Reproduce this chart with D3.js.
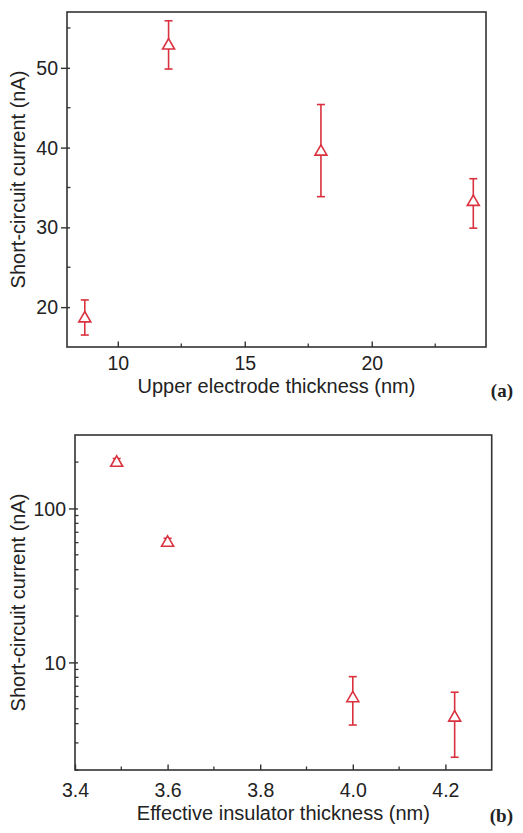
<!DOCTYPE html>
<html><head><meta charset="utf-8">
<script src="https://cdn.jsdelivr.net/npm/d3@7"></script>
<style>body{margin:0;background:#fff}svg{display:block}text{font-family:"Liberation Sans",Arial,sans-serif;fill:#222}</style>
</head><body>
<svg id="c" width="523" height="833"></svg>
<script>
// Panel (a)
const aThickness = [8.7, 12, 18, 24];
const aCurrent = [18.8, 53.0, 39.7, 33.4];
const aLow = [16.5, 49.85, 33.85, 29.9];
const aHigh = [20.9, 55.9, 45.4, 36.1];
const aXTicks = [10, 15, 20];
const aXMinor = [12.5, 17.5, 22.5];
const aYTicks = [20, 30, 40, 50];
const aYMinor = [25, 35, 45, 55];
// Panel (b)
const bThickness = [3.49, 3.6, 4.0, 4.22];
const bCurrent = [203, 61.4, 6.0, 4.49];
const bLow = [195, 59, 3.92, 2.42];
const bHigh = [211, 64, 8.08, 6.4];
const bXTicks = [3.4, 3.6, 3.8, 4.0, 4.2];
const bXMinor = [3.5, 3.7, 3.9, 4.1];
const bYTicks = [10, 100];
const bYMinor = [2,3,4,5,6,7,8,9,20,30,40,50,60,70,80,90,200];

const svg = d3.select("#c");
const RED = "#d9323e";
const FRAME = "#333";

function panel(o){
  const g = svg.append("g");
  const x = o.x, y = o.y;
  const [x0,x1] = x.range(), [y0,y1] = y.range();
  // minor ticks (inside)
  g.selectAll(null).data(o.xMinor).join("line")
    .attr("x1", d=>x(d)).attr("x2", d=>x(d)).attr("y1", y0).attr("y2", y0-3.5)
    .attr("stroke", FRAME).attr("stroke-width", 1.3);
  g.selectAll(null).data(o.yMinor).join("line")
    .attr("y1", d=>y(d)).attr("y2", d=>y(d)).attr("x1", x0).attr("x2", x0+3.5)
    .attr("stroke", FRAME).attr("stroke-width", 1.3);
  // x axis
  const xa = g.append("g").attr("transform", `translate(0,${y0})`)
    .call(d3.axisBottom(x).tickValues(o.xTicks).tickSizeInner(-5.5).tickSizeOuter(0).tickPadding(o.xPad).tickFormat(o.xFmt));
  xa.select(".domain").remove();
  xa.selectAll("line").attr("stroke", FRAME).attr("stroke-width", 1.4);
  xa.selectAll("text").attr("font-size", o.tickFs).attr("fill", "#222").attr("font-family", '"Liberation Sans",Arial,sans-serif');
  // y axis
  const ya = g.append("g").attr("transform", `translate(${x0},0)`)
    .call(d3.axisLeft(y).tickValues(o.yTicks).tickSizeInner(6).tickSizeOuter(0).tickPadding(3).tickFormat(d3.format("d")));
  ya.select(".domain").remove();
  ya.selectAll("line").attr("stroke", FRAME).attr("stroke-width", 1.4).attr("x2", -6).attr("x1", 3);
  ya.selectAll("text").attr("font-size", o.tickFs).attr("fill", "#222").attr("font-family", '"Liberation Sans",Arial,sans-serif').attr("dy", "0.34em");
  // frame
  g.append("rect").attr("x", x0).attr("y", y1).attr("width", x1-x0).attr("height", y0-y1)
    .attr("fill", "none").attr("stroke", FRAME).attr("stroke-width", 1.6);
  // labels
  g.append("text").attr("x", (x0+x1)/2).attr("y", o.xLabelY).attr("text-anchor", "middle")
    .attr("font-size", 20).text(o.xLabel);
  g.append("text").attr("transform", `translate(${o.yLabelX},${(y0+y1)/2}) rotate(-90)`)
    .attr("text-anchor", "middle").attr("font-size", 20).text("Short-circuit current (nA)");
  g.append("text").attr("x", 513).attr("y", o.tagY).attr("text-anchor", "end")
    .attr("font-weight", "bold")
    .attr("font-size", 19).style("font-family", '"Liberation Serif","Times New Roman",serif').text(o.tag);
  // data
  const pts = o.xs.map((v,i)=>({x:v, y:o.ys[i], lo:o.lo[i], hi:o.hi[i]}));
  const eb = g.append("g").attr("stroke", RED).attr("stroke-width", 1.6).attr("fill", "none");
  pts.forEach(p=>{
    eb.append("line").attr("x1", x(p.x)).attr("x2", x(p.x)).attr("y1", y(p.lo)).attr("y2", y(p.hi));
    eb.append("line").attr("x1", x(p.x)-4).attr("x2", x(p.x)+4).attr("y1", y(p.lo)).attr("y2", y(p.lo));
    eb.append("line").attr("x1", x(p.x)-4).attr("x2", x(p.x)+4).attr("y1", y(p.hi)).attr("y2", y(p.hi));
  });
  const sym = d3.symbol(d3.symbolTriangle).size(62);
  g.selectAll(null).data(pts).join("path")
    .attr("d", sym).attr("transform", d=>`translate(${x(d.x)},${y(d.y)+1.7})`)
    .attr("fill", "#fff").attr("stroke", RED).attr("stroke-width", 1.6);
}

panel({
  x: d3.scaleLinear().domain([8, 24.5]).range([67, 486]),
  y: d3.scaleLinear().domain([15, 57]).range([347, 12]),
  xs: aThickness, ys: aCurrent, lo: aLow, hi: aHigh,
  xTicks: aXTicks, xMinor: aXMinor, yTicks: aYTicks, yMinor: aYMinor,
  xFmt: d3.format("d"), tickFs: 19.5, xPad: 9.5,
  xLabel: "Upper electrode thickness (nm)", xLabelY: 393, yLabelX: 25, tag: "(a)", tagY: 397
});
panel({
  x: d3.scaleLinear().domain([3.4, 4.3]).range([75, 491.7]),
  y: d3.scaleLog().domain([2, 300]).range([770, 435]),
  xs: bThickness, ys: bCurrent, lo: bLow, hi: bHigh,
  xTicks: bXTicks, xMinor: bXMinor, yTicks: bYTicks, yMinor: bYMinor,
  xFmt: d3.format(".1f"), tickFs: 19.5, xPad: 13,
  xLabel: "Effective insulator thickness (nm)", xLabelY: 820, yLabelX: 25, tag: "(b)", tagY: 822
});
</script>
</body></html>
